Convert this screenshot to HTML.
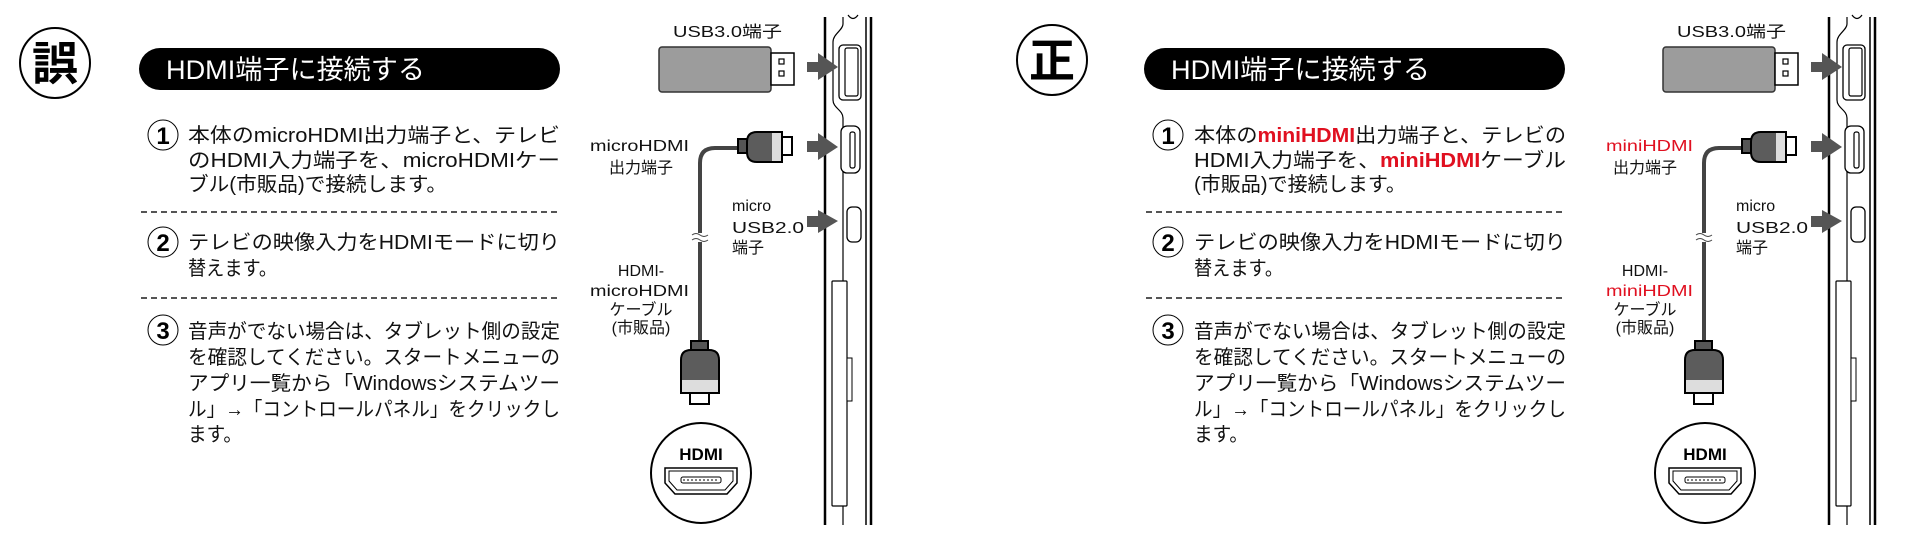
<!DOCTYPE html>
<html><head><meta charset="utf-8"><style>
html,body{margin:0;padding:0;background:#fff;}
svg{display:block;}
text{font-family:"Liberation Sans","Noto Sans CJK JP",sans-serif;}
.t{font-size:20px;fill:#111;}
.l{font-size:16px;fill:#111;}
.r{fill:#e01020;font-weight:bold;}
</style></head><body>
<svg width="1927" height="545" viewBox="0 0 1927 545" xmlns="http://www.w3.org/2000/svg">
<defs>
<g id="diag">
  <line x1="825" y1="17" x2="825" y2="525" stroke="#000" stroke-width="2.5"/>
  <line x1="866" y1="17" x2="866" y2="525" stroke="#000" stroke-width="1.5"/>
  <line x1="871" y1="17" x2="871" y2="525" stroke="#000" stroke-width="2.5"/>
  <path d="M843,17 L843,24 C843,30 833,34 833,42 L833,100 C833,108 843,110 843,118 L843,525" fill="none" stroke="#000" stroke-width="1.2"/>
  <path d="M848,15 Q853,22 858,15" fill="none" stroke="#000" stroke-width="1.2"/>
  <rect x="839" y="45" width="22" height="55" rx="4" fill="#fff" stroke="#000" stroke-width="1.3"/>
  <rect x="845" y="48" width="13" height="48" rx="2" fill="#fff" stroke="#000" stroke-width="1.2"/>
  <rect x="841" y="126" width="19" height="47" rx="6" fill="#fff" stroke="#000" stroke-width="1.3"/>
  <rect x="850" y="132" width="5" height="36" rx="2" fill="#fff" stroke="#000" stroke-width="1.2"/>
  <rect x="847" y="207" width="14" height="35" rx="5" fill="#fff" stroke="#000" stroke-width="1.3"/>
  <rect x="832" y="281" width="15" height="225" rx="1" fill="#fff" stroke="#000" stroke-width="1.2"/>
  <rect x="847" y="358" width="5" height="43" fill="#fff" stroke="#000" stroke-width="1"/>
  <polygon points="807,62 818,62 818,53 838,67 818,80 818,72 807,72" fill="#555"/>
  <polygon points="807,141 818,141 818,133 838,147 818,160 818,152 807,152" fill="#555"/>
  <polygon points="807,216 818,216 818,210 838,221 818,233 818,227 807,227" fill="#555"/>
  <rect x="659" y="47" width="112" height="45" rx="3" fill="#9c9c9c" stroke="#333" stroke-width="1.5"/>
  <rect x="771" y="53" width="23" height="32" fill="#fff" stroke="#000" stroke-width="1.5"/>
  <rect x="779" y="59" width="5" height="5" fill="#fff" stroke="#000" stroke-width="1.2"/>
  <rect x="779" y="71" width="5" height="5" fill="#fff" stroke="#000" stroke-width="1.2"/>
  <path d="M740,148 L715,148 Q700,148 700,163 L700,343" fill="none" stroke="#444" stroke-width="4"/>
  <rect x="738" y="139" width="10" height="14" fill="#555" stroke="#000" stroke-width="2"/>
  <path d="M782,132 L757,132 Q747,132 747,142 L747,152 Q747,162 757,162 L782,162 Z" fill="#5c5c5c" stroke="#000" stroke-width="2"/>
  <rect x="772" y="133" width="10" height="28" fill="#ddd"/>
  <path d="M782,132 L782,162" stroke="#000" stroke-width="2"/>
  <rect x="782" y="137" width="10" height="18" fill="#fff" stroke="#000" stroke-width="2"/>
  <rect x="693" y="233" width="14" height="9" fill="#fff"/>
  <path d="M692,235 q4,-3 8,0 t8,0 M692,240 q4,-3 8,0 t8,0" fill="none" stroke="#444" stroke-width="1"/>
  <rect x="691" y="341" width="17" height="10" fill="#555" stroke="#000" stroke-width="2"/>
  <path d="M681,393 L681,360 Q681,350 691,350 L709,350 Q719,350 719,360 L719,393 Z" fill="#5c5c5c" stroke="#000" stroke-width="2"/>
  <rect x="682" y="380" width="36" height="12" fill="#ddd"/>
  <rect x="690" y="393" width="19" height="11" fill="#fff" stroke="#000" stroke-width="2"/>
  <circle cx="701" cy="473" r="50" fill="#fff" stroke="#000" stroke-width="2"/>
  <path d="M665,468 L737,468 L737,483 L727,494 L675,494 L665,483 Z" fill="#fff" stroke="#000" stroke-width="1.5"/>
  <path d="M669,471 L733,471 L733,481 L725,490 L677,490 L669,481 Z" fill="#fff" stroke="#000" stroke-width="1"/>
  <rect x="681" y="477" width="40" height="6" rx="2" fill="#fff" stroke="#000" stroke-width="1"/>
  <line x1="683" y1="480" x2="719" y2="480" stroke="#000" stroke-width="1" stroke-dasharray="2,2"/>
</g>
</defs>

<circle cx="55" cy="63" r="35" fill="#fff" stroke="#000" stroke-width="2"/>
<text x="55" y="80" text-anchor="middle" style="font-size:46px;font-weight:bold;">誤</text>
<rect x="139" y="48" width="421" height="42" rx="21" fill="#000"/>
<text x="166" y="79" textLength="259" lengthAdjust="spacingAndGlyphs" style="font-size:27px;fill:#fff;">HDMI端子に接続する</text>

<g>
<circle cx="163" cy="135" r="15" fill="none" stroke="#000" stroke-width="1"/>
<text x="163" y="144" text-anchor="middle" style="font-size:24px;font-weight:bold;">1</text>
<text class="t" x="188" y="142" textLength="372" lengthAdjust="spacingAndGlyphs">本体のmicroHDMI出力端子と、テレビ</text>
<text class="t" x="188" y="167" textLength="372" lengthAdjust="spacingAndGlyphs">のHDMI入力端子を、microHDMIケー</text>
<text class="t" x="188" y="191" textLength="259" lengthAdjust="spacingAndGlyphs">ブル(市販品)で接続します。</text>
<line x1="141" y1="212" x2="560" y2="212" stroke="#555" stroke-width="2" stroke-dasharray="6,4"/>
<circle cx="163" cy="242" r="15" fill="none" stroke="#000" stroke-width="1"/>
<text x="163" y="251" text-anchor="middle" style="font-size:24px;font-weight:bold;">2</text>
<text class="t" x="188" y="249" textLength="372" lengthAdjust="spacingAndGlyphs">テレビの映像入力をHDMIモードに切り</text>
<text class="t" x="188" y="275" textLength="89" lengthAdjust="spacingAndGlyphs">替えます。</text>
<line x1="141" y1="298" x2="560" y2="298" stroke="#555" stroke-width="2" stroke-dasharray="6,4"/>
<circle cx="163" cy="330" r="15" fill="none" stroke="#000" stroke-width="1"/>
<text x="163" y="339" text-anchor="middle" style="font-size:24px;font-weight:bold;">3</text>
<text class="t" x="188" y="338" textLength="372" lengthAdjust="spacingAndGlyphs">音声がでない場合は、タブレット側の設定</text>
<text class="t" x="188" y="364" textLength="372" lengthAdjust="spacingAndGlyphs">を確認してください。スタートメニューの</text>
<text class="t" x="188" y="390" textLength="372" lengthAdjust="spacingAndGlyphs">アプリ一覧から「Windowsシステムツー</text>
<text class="t" x="188" y="416" textLength="372" lengthAdjust="spacingAndGlyphs">ル」→「コントロールパネル」をクリックし</text>
<text class="t" x="188" y="441" textLength="54" lengthAdjust="spacingAndGlyphs">ます。</text>
</g>

<use href="#diag"/>
<text class="l" x="673" y="37" textLength="109" lengthAdjust="spacingAndGlyphs">USB3.0端子</text>
<text class="l" x="689" y="151" text-anchor="end" textLength="99" lengthAdjust="spacingAndGlyphs">microHDMI</text>
<text class="l" x="641" y="173" text-anchor="middle">出力端子</text>
<text class="l" x="732" y="211">micro</text>
<text class="l" x="732" y="233" textLength="72" lengthAdjust="spacingAndGlyphs">USB2.0</text>
<text class="l" x="732" y="253">端子</text>
<text class="l" x="641" y="276" text-anchor="middle">HDMI-</text>
<text class="l" x="689" y="296" text-anchor="end" textLength="99" lengthAdjust="spacingAndGlyphs">microHDMI</text>
<text class="l" x="641" y="315" text-anchor="middle">ケーブル</text>
<text class="l" x="641" y="333" text-anchor="middle">(市販品)</text>
<text x="701" y="460" text-anchor="middle" style="font-size:17px;font-weight:bold;">HDMI</text>

<circle cx="1052" cy="60" r="35" fill="#fff" stroke="#000" stroke-width="2"/>
<text x="1052" y="77" text-anchor="middle" style="font-size:46px;font-weight:bold;">正</text>
<rect x="1144" y="48" width="421" height="42" rx="21" fill="#000"/>
<text x="1171" y="79" textLength="259" lengthAdjust="spacingAndGlyphs" style="font-size:27px;fill:#fff;">HDMI端子に接続する</text>

<g>
<circle cx="1168" cy="135" r="15" fill="none" stroke="#000" stroke-width="1"/>
<text x="1168" y="144" text-anchor="middle" style="font-size:24px;font-weight:bold;">1</text>
<text class="t" x="1194" y="142" textLength="372" lengthAdjust="spacingAndGlyphs">本体の<tspan class="r">miniHDMI</tspan>出力端子と、テレビの</text>
<text class="t" x="1194" y="167" textLength="372" lengthAdjust="spacingAndGlyphs">HDMI入力端子を、<tspan class="r">miniHDMI</tspan>ケーブル</text>
<text class="t" x="1194" y="191" textLength="212" lengthAdjust="spacingAndGlyphs">(市販品)で接続します。</text>
<line x1="1146" y1="212" x2="1565" y2="212" stroke="#555" stroke-width="2" stroke-dasharray="6,4"/>
<circle cx="1168" cy="242" r="15" fill="none" stroke="#000" stroke-width="1"/>
<text x="1168" y="251" text-anchor="middle" style="font-size:24px;font-weight:bold;">2</text>
<text class="t" x="1194" y="249" textLength="372" lengthAdjust="spacingAndGlyphs">テレビの映像入力をHDMIモードに切り</text>
<text class="t" x="1194" y="275" textLength="89" lengthAdjust="spacingAndGlyphs">替えます。</text>
<line x1="1146" y1="298" x2="1565" y2="298" stroke="#555" stroke-width="2" stroke-dasharray="6,4"/>
<circle cx="1168" cy="330" r="15" fill="none" stroke="#000" stroke-width="1"/>
<text x="1168" y="339" text-anchor="middle" style="font-size:24px;font-weight:bold;">3</text>
<text class="t" x="1194" y="338" textLength="372" lengthAdjust="spacingAndGlyphs">音声がでない場合は、タブレット側の設定</text>
<text class="t" x="1194" y="364" textLength="372" lengthAdjust="spacingAndGlyphs">を確認してください。スタートメニューの</text>
<text class="t" x="1194" y="390" textLength="372" lengthAdjust="spacingAndGlyphs">アプリ一覧から「Windowsシステムツー</text>
<text class="t" x="1194" y="416" textLength="372" lengthAdjust="spacingAndGlyphs">ル」→「コントロールパネル」をクリックし</text>
<text class="t" x="1194" y="441" textLength="54" lengthAdjust="spacingAndGlyphs">ます。</text>
</g>

<use href="#diag" transform="translate(1004,0)"/>
<text class="l" x="1677" y="37" textLength="109" lengthAdjust="spacingAndGlyphs">USB3.0端子</text>
<text class="l" x="1693" y="151" text-anchor="end" textLength="87" lengthAdjust="spacingAndGlyphs" style="fill:#e01020;">miniHDMI</text>
<text class="l" x="1645" y="173" text-anchor="middle">出力端子</text>
<text class="l" x="1736" y="211">micro</text>
<text class="l" x="1736" y="233" textLength="72" lengthAdjust="spacingAndGlyphs">USB2.0</text>
<text class="l" x="1736" y="253">端子</text>
<text class="l" x="1645" y="276" text-anchor="middle">HDMI-</text>
<text class="l" x="1693" y="296" text-anchor="end" textLength="87" lengthAdjust="spacingAndGlyphs" style="fill:#e01020;">miniHDMI</text>
<text class="l" x="1645" y="315" text-anchor="middle">ケーブル</text>
<text class="l" x="1645" y="333" text-anchor="middle">(市販品)</text>
<text x="1705" y="460" text-anchor="middle" style="font-size:17px;font-weight:bold;">HDMI</text>
</svg>
</body></html>
